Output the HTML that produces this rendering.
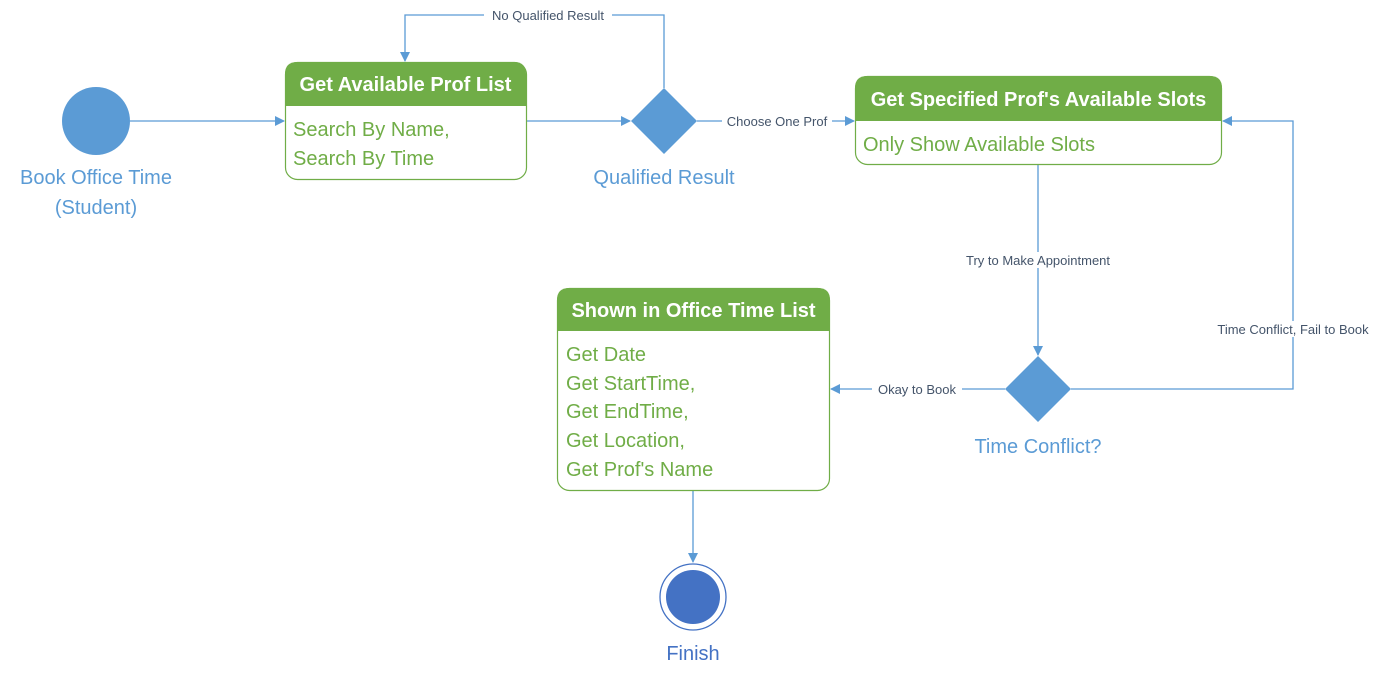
<!DOCTYPE html>
<html><head><meta charset="utf-8"><style>
html,body{margin:0;padding:0;background:#fff;}
svg{display:block;}
text{font-family:"Liberation Sans",sans-serif;}
</style></head><body>
<svg width="1387" height="679" viewBox="0 0 1387 679" xmlns="http://www.w3.org/2000/svg">
<defs>
<marker id="a" markerWidth="10" markerHeight="10" refX="9" refY="5" orient="auto" markerUnits="userSpaceOnUse">
<path d="M0,0 L10,5 L0,10 z" fill="#5b9bd5"/></marker>
</defs>
<g stroke="#5b9bd5" stroke-width="1.3" fill="none">
<line x1="130" y1="121" x2="284" y2="121" marker-end="url(#a)"/>
<line x1="526" y1="121" x2="630" y2="121" marker-end="url(#a)"/>
<polyline points="664,88 664,15 405,15 405,61" marker-end="url(#a)"/>
<line x1="697" y1="121" x2="854" y2="121" marker-end="url(#a)"/>
<line x1="1038" y1="165" x2="1038" y2="355" marker-end="url(#a)"/>
<polyline points="1071,389 1293,389 1293,121 1223,121" marker-end="url(#a)"/>
<line x1="1005" y1="389" x2="831" y2="389" marker-end="url(#a)"/>
<line x1="693" y1="491" x2="693" y2="562" marker-end="url(#a)"/>
</g>
<g font-size="13" fill="#44546a" text-anchor="middle">
<rect x="484" y="7" width="128" height="16" fill="#fff"/>
<text x="548" y="20">No Qualified Result</text>
<rect x="722" y="113" width="110" height="16" fill="#fff"/>
<text x="777" y="126">Choose One Prof</text>
<rect x="952" y="252" width="172" height="16" fill="#fff"/>
<text x="1038" y="265">Try to Make Appointment</text>
<rect x="1207" y="321" width="172" height="16" fill="#fff"/>
<text x="1293" y="334">Time Conflict, Fail to Book</text>
<rect x="872" y="381" width="90" height="16" fill="#fff"/>
<text x="917" y="394">Okay to Book</text>
</g>
<circle cx="96" cy="121" r="34" fill="#5b9bd5"/>
<g font-size="20" fill="#5b9bd5" text-anchor="middle">
<text x="96" y="184">Book Office Time</text>
<text x="96" y="214">(Student)</text>
<text x="664" y="184">Qualified Result</text>
<text x="1038" y="453">Time Conflict?</text>
<text x="693" y="660" fill="#4472c4">Finish</text>
</g>
<polygon points="664,88 697,121 664,154 631,121" fill="#5b9bd5"/>
<polygon points="1038,356 1071,389 1038,422 1005,389" fill="#5b9bd5"/>
<circle cx="693" cy="597" r="33" fill="#fff" stroke="#4472c4" stroke-width="1.3"/>
<circle cx="693" cy="597" r="27" fill="#4472c4"/>
<!-- box1 -->
<rect x="285.5" y="62.5" width="241" height="117" rx="12" fill="#fff" stroke="#70ad47" stroke-width="1.2"/>
<path d="M285,106 V74 Q285,62 297,62 H514 Q526,62 526,74 V106 Z" fill="#70ad47"/>
<text x="405.5" y="91" font-size="20" font-weight="bold" fill="#fff" text-anchor="middle">Get Available Prof List</text>
<g font-size="20" fill="#70ad47"><text x="293" y="136">Search By Name,</text><text x="293" y="165">Search By Time</text></g>
<!-- box2 -->
<rect x="855.5" y="76.5" width="366" height="88" rx="12" fill="#fff" stroke="#70ad47" stroke-width="1.2"/>
<path d="M855,121 V88 Q855,76 867,76 H1210 Q1222,76 1222,88 V121 Z" fill="#70ad47"/>
<text x="1038.5" y="106" font-size="20" font-weight="bold" fill="#fff" text-anchor="middle">Get Specified Prof's Available Slots</text>
<text x="863" y="151" font-size="20" fill="#70ad47">Only Show Available Slots</text>
<!-- box3 -->
<rect x="557.5" y="288.5" width="272" height="202" rx="12" fill="#fff" stroke="#70ad47" stroke-width="1.2"/>
<path d="M557,331 V300 Q557,288 569,288 H818 Q830,288 830,300 V331 Z" fill="#70ad47"/>
<text x="693.5" y="317" font-size="20" font-weight="bold" fill="#fff" text-anchor="middle">Shown in Office Time List</text>
<g font-size="20" fill="#70ad47">
<text x="566" y="361">Get Date</text>
<text x="566" y="390">Get StartTime,</text>
<text x="566" y="418">Get EndTime,</text>
<text x="566" y="447">Get Location,</text>
<text x="566" y="476">Get Prof's Name</text>
</g>
</svg>
</body></html>
